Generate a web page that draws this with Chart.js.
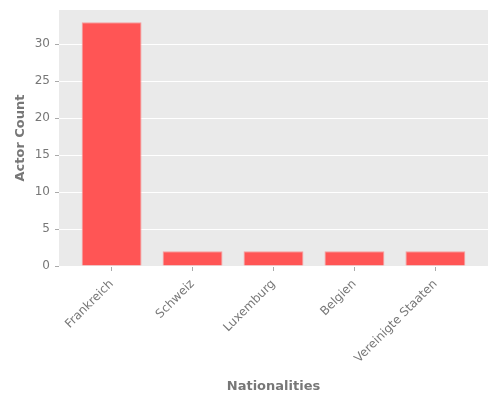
<!DOCTYPE html>
<html>
<head>
<meta charset="utf-8">
<script src="https://cdn.jsdelivr.net/npm/chart.js@4"></script>
<style>
html,body{margin:0;padding:0;background:#fff;}
#wrap{width:500px;height:400px;}
</style>
</head>
<body>
<div id="wrap"><canvas id="c" width="500" height="400"></canvas></div>
<script>
const categories = ["Frankreich", "Schweiz", "Luxemburg", "Belgien", "Vereinigte Staaten"];
const actorCounts = [33, 2, 2, 2, 2];
const yTicks = [0, 5, 10, 15, 20, 25, 30];

const points = categories.map((c, i) => ({x: i, y: actorCounts[i]}));

const bgPlugin = {
  id: 'bg',
  beforeDraw(chart) {
    const {ctx, chartArea: a} = chart;
    ctx.save();
    ctx.fillStyle = '#EAEAEA';
    ctx.fillRect(a.left, a.top, a.right - a.left, a.bottom - a.top);
    ctx.restore();
  }
};

new Chart(document.getElementById('c'), {
  type: 'bar',
  data: {
    datasets: [{
      data: points,
      backgroundColor: '#FF5555',
      borderColor: 'rgba(245,160,160,1)',
      borderWidth: 1,
      barPercentage: 0.74,
      categoryPercentage: 1.0
    }]
  },
  options: {
    responsive: false,
    animation: false,
    devicePixelRatio: 1,
    layout: {padding: {top: 10, right: 12, left: 0, bottom: 0}},
    plugins: {legend: {display: false}, tooltip: {enabled: false}},
    scales: {
      x: {
        type: 'linear',
        offset: false,
        min: -0.65,
        max: 4.65,
        afterBuildTicks(scale) { scale.ticks = categories.map((c, i) => ({value: i})); },
        afterFit(scale) { scale.height = 134; scale.paddingLeft = 0; scale.paddingRight = 0; },
        grid: {offset: false, drawOnChartArea: false, drawTicks: true, tickLength: 5, tickColor: '#AAA'},
        border: {display: false},
        ticks: {
          autoSkip: false,
          maxRotation: 45, minRotation: 45,
          padding: 6,
          color: '#777',
          font: {family: 'DejaVu Sans', size: 12},
          callback: (v) => categories[v]
        },
        title: {
          display: true, text: 'Nationalities', color: '#777',
          font: {family: 'DejaVu Sans', size: 13, weight: 'bold'},
          padding: {top: 0, bottom: 6}
        }
      },
      y: {
        min: 0,
        max: 34.65,
        afterBuildTicks(scale) { scale.ticks = yTicks.map(v => ({value: v})); },
        afterFit(scale) { scale.width = 59; scale.paddingTop = 0; scale.paddingBottom = 0; },
        grid: {color: '#FFFFFF', lineWidth: 1, drawTicks: true, tickLength: 4, tickColor: '#AAA'},
        border: {display: false},
        ticks: {
          padding: 5,
          color: '#777',
          font: {family: 'DejaVu Sans', size: 12}
        },
        title: {
          display: true, text: 'Actor Count', color: '#777',
          font: {family: 'DejaVu Sans', size: 13, weight: 'bold'},
          padding: {top: 13, bottom: 0}
        }
      }
    }
  },
  plugins: [bgPlugin]
});
</script>
</body>
</html>
